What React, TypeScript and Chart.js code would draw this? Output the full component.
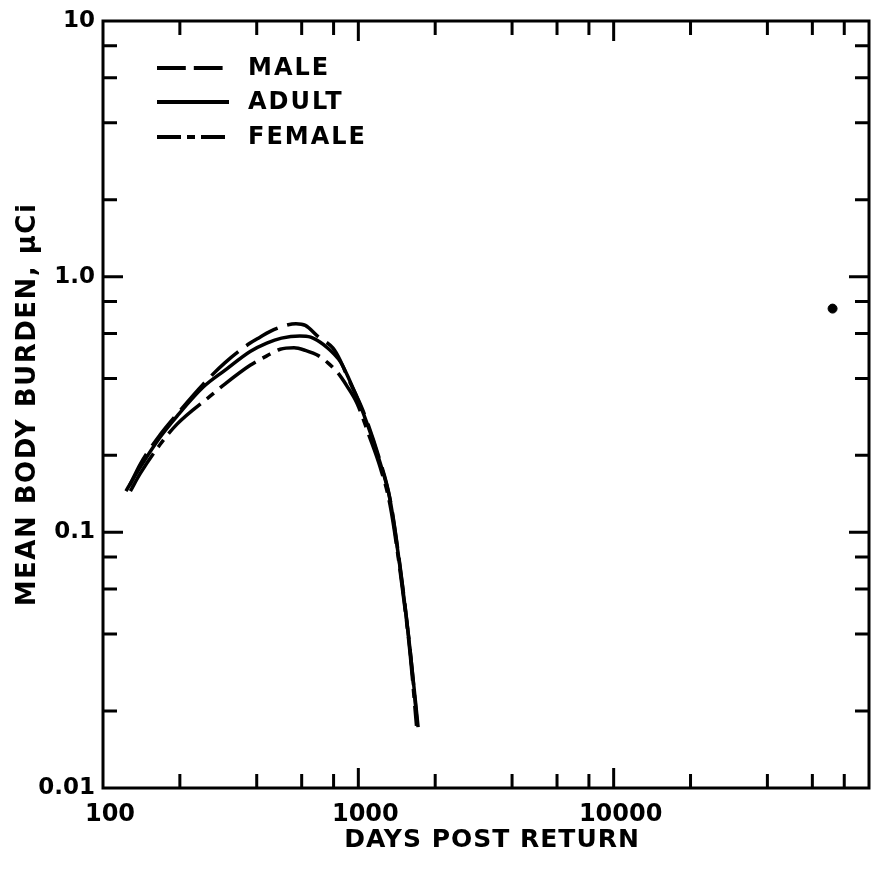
import React, { useEffect, useRef } from 'react';
import { Chart, registerables } from 'chart.js';

Chart.register(...registerables);

// ---- data ----
const maleDays = [127, 140, 167, 195, 247, 300, 377, 412, 450, 520, 570, 620, 700, 796, 850, 912, 1042, 1217, 1331, 1456, 1593, 1700];
const maleBurden = [0.152, 0.185, 0.24, 0.29, 0.38, 0.46, 0.55, 0.58, 0.61, 0.645, 0.655, 0.645, 0.58, 0.525, 0.47, 0.40, 0.30, 0.19, 0.135, 0.074, 0.035, 0.018];

const adultDays = [123, 140, 167, 195, 247, 300, 377, 438, 500, 590, 650, 707, 760, 800, 850, 912, 1042, 1217, 1331, 1456, 1593, 1714];
const adultBurden = [0.145, 0.18, 0.235, 0.285, 0.37, 0.43, 0.51, 0.55, 0.575, 0.586, 0.58, 0.555, 0.525, 0.50, 0.465, 0.405, 0.295, 0.187, 0.134, 0.073, 0.035, 0.0173];

const femaleDays = [128, 140, 167, 195, 262, 300, 377, 438, 494, 560, 620, 700, 760, 832, 900, 988, 1100, 1217, 1331, 1456, 1593, 1690];
const femaleBurden = [0.145, 0.17, 0.22, 0.265, 0.34, 0.38, 0.45, 0.49, 0.52, 0.527, 0.515, 0.49, 0.46, 0.42, 0.375, 0.32, 0.24, 0.18, 0.128, 0.071, 0.034, 0.0175];

const pointDays = [72000];
const pointBurden = [0.75];

const xTickValues = [100, 1000, 10000];
const xTickLabels = ['100', '1000', '10000'];
const yTickValues = [0.01, 0.1, 1, 10];
const yTickLabels = ['0.01', '0.1', '1.0', '10'];
const xDecades = [100, 1000, 10000];
const yDecades = [0.01, 0.1, 1];
const minorMultipliers = [1, 2, 4, 6, 8];

const legendLabels = ['MALE', 'ADULT', 'FEMALE'];
const xTitle = 'DAYS POST RETURN';
const yTitle = 'MEAN BODY BURDEN, \u00B5Ci';

const FONT = '"DejaVu Sans", "Liberation Sans", sans-serif';
const maleDash = [36, 10];
const femaleDash = [44, 8, 9, 8];

const toXY = (xs: number[], ys: number[]) => xs.map((x, i) => ({ x, y: ys[i] }));

const decorPlugin = {
  id: 'decor',
  afterDraw(chart: any) {
    const ctx = chart.ctx as CanvasRenderingContext2D;
    const { left, right, top, bottom } = chart.chartArea;
    const xs = chart.scales.x;
    const ys = chart.scales.y;
    ctx.save();
    ctx.strokeStyle = '#000';
    ctx.fillStyle = '#000';
    ctx.lineWidth = 3;
    ctx.setLineDash([]);
    // frame
    ctx.strokeRect(left, top, right - left, bottom - top);
    // inward ticks
    ctx.beginPath();
    xDecades.forEach((d) => {
      minorMultipliers.forEach((m) => {
        const v = d * m;
        if (v <= 100) return;
        const len = m === 1 ? 20 : 14;
        const px = xs.getPixelForValue(v);
        ctx.moveTo(px, bottom);
        ctx.lineTo(px, bottom - len);
        ctx.moveTo(px, top);
        ctx.lineTo(px, top + len);
      });
    });
    yDecades.forEach((d) => {
      minorMultipliers.forEach((m) => {
        const v = d * m;
        if (v <= 0.01) return;
        const len = m === 1 ? 20 : 14;
        const py = ys.getPixelForValue(v);
        ctx.moveTo(left, py);
        ctx.lineTo(left + len, py);
        ctx.moveTo(right, py);
        ctx.lineTo(right - len, py);
      });
    });
    ctx.stroke();

    // legend
    const dashes = [maleDash.map((v) => v * 0.8), [], [24, 6, 8, 6]];
    const legendY = [68, 102, 137];
    ctx.lineWidth = 4;
    ctx.font = `bold 24px ${FONT}`;
    (ctx as any).letterSpacing = '2px';
    ctx.textAlign = 'left';
    ctx.textBaseline = 'middle';
    legendLabels.forEach((lab, i) => {
      ctx.setLineDash(dashes[i]);
      ctx.beginPath();
      ctx.moveTo(157, legendY[i]);
      ctx.lineTo(229, legendY[i]);
      ctx.stroke();
      ctx.fillText(lab, 248, legendY[i] + 1);
    });
    ctx.setLineDash([]);

    // axis titles
    ctx.textAlign = 'center';
    ctx.font = `bold 25px ${FONT}`;
    (ctx as any).letterSpacing = '1px';
    ctx.fillText(xTitle, 492, 840);
    ctx.translate(28, (top + bottom) / 2);
    ctx.rotate(-Math.PI / 2);
    ctx.font = `bold 26px ${FONT}`;
    (ctx as any).letterSpacing = '1.5px';
    ctx.fillText(yTitle, 0, 0);
    ctx.restore();
  },
};

export default function App() {
  const ref = useRef<HTMLCanvasElement | null>(null);

  useEffect(() => {
    if (!ref.current) return;
    const chart = new Chart(ref.current, {
      type: 'line',
      data: {
        datasets: [
          {
            label: 'MALE',
            data: toXY(maleDays, maleBurden),
            borderColor: '#000',
            borderWidth: 3.5,
            borderDash: maleDash,
            pointRadius: 0,
            cubicInterpolationMode: 'monotone',
            fill: false,
          },
          {
            label: 'ADULT',
            data: toXY(adultDays, adultBurden),
            borderColor: '#000',
            borderWidth: 3.5,
            pointRadius: 0,
            cubicInterpolationMode: 'monotone',
            fill: false,
          },
          {
            label: 'FEMALE',
            data: toXY(femaleDays, femaleBurden),
            borderColor: '#000',
            borderWidth: 3.5,
            borderDash: femaleDash,
            pointRadius: 0,
            cubicInterpolationMode: 'monotone',
            fill: false,
          },
          {
            type: 'scatter',
            label: 'point',
            data: toXY(pointDays, pointBurden),
            backgroundColor: '#000',
            borderColor: '#000',
            pointRadius: 4.5,
            showLine: false,
          } as any,
        ],
      },
      options: {
        responsive: false,
        animation: false,
        layout: { autoPadding: false, padding: { top: 21, right: 2, left: 0, bottom: 0 } },
        plugins: {
          legend: { display: false },
          tooltip: { enabled: false },
          title: { display: false },
        },
        scales: {
          x: {
            type: 'logarithmic',
            min: 100,
            max: 100000,
            grid: { display: false, drawTicks: false },
            border: { display: false },
            afterBuildTicks: (scale: any) => {
              scale.ticks = xTickValues.map((v) => ({ value: v }));
            },
            afterFit: (scale: any) => {
              scale.height = 81;
              scale.paddingLeft = 0;
              scale.paddingRight = 0;
            },
            ticks: {
              autoSkip: false,
              maxRotation: 0,
              padding: 12,
              labelOffset: 7,
              color: '#000',
              font: { family: FONT, size: 24, weight: 'bold' },
              callback: (v: any) => {
                const i = xTickValues.indexOf(Number(v));
                return i >= 0 ? xTickLabels[i] : '';
              },
            },
          },
          y: {
            type: 'logarithmic',
            min: 0.01,
            max: 10,
            grid: { display: false, drawTicks: false },
            border: { display: false },
            afterBuildTicks: (scale: any) => {
              scale.ticks = yTickValues.map((v) => ({ value: v }));
            },
            afterFit: (scale: any) => {
              scale.width = 103;
              scale.paddingTop = 0;
              scale.paddingBottom = 0;
            },
            ticks: {
              autoSkip: false,
              padding: 8,
              color: '#000',
              font: { family: FONT, size: 23, weight: 'bold' },
              callback: (v: any) => {
                const i = yTickValues.findIndex((t) => Math.abs(t - Number(v)) < 1e-9);
                return i >= 0 ? yTickLabels[i] : '';
              },
            },
          },
        },
      },
      plugins: [decorPlugin],
    } as any);
    return () => chart.destroy();
  }, []);

  return (
    <div style={{ position: 'absolute', left: 0, top: 0, width: 871, height: 869, background: '#fff' }}>
      <canvas ref={ref} width={871} height={869} style={{ display: 'block' }} />
    </div>
  );
}
